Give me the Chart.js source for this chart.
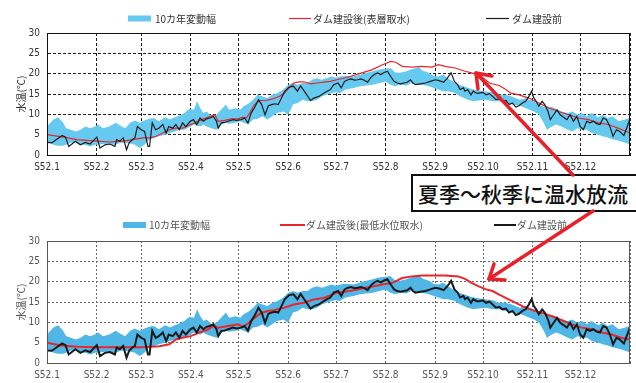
<!DOCTYPE html>
<html>
<head>
<meta charset="utf-8">
<script src="https://cdn.jsdelivr.net/npm/chart.js@4.4.1/dist/chart.umd.min.js"></script>
<style>
body { margin: 0; background: #fff; }
#wrap { position: relative; width: 636px; height: 383px; overflow: hidden; }
.pane { position: absolute; left: 0; width: 636px; }
#note {
    position: absolute; left: 411px; top: 174px; width: 218px; height: 34px;
    border: 2px solid #111; background: #fff; color: #111;
    font: 500 21px "Noto Sans CJK JP", sans-serif; line-height: 34px;
    padding-left: 5px; white-space: nowrap;
}
#arrows { position: absolute; left: 0; top: 0; pointer-events: none; }
</style>
</head>
<body>
<div id="wrap">
    <div class="pane" style="top:0;height:190px"><canvas id="chartTop"></canvas></div>
    <div class="pane" style="top:190px;height:193px"><canvas id="chartBottom"></canvas></div>
    <div id="note">夏季～秋季に温水放流</div>
    <svg id="arrows" width="636" height="383">
        <g stroke="#e8202a" stroke-width="3.5" fill="none" stroke-linecap="round" stroke-linejoin="round">
            <line x1="573" y1="175" x2="476" y2="73"/>
            <polyline points="492,76 476,73 478,89"/>
            <line x1="593" y1="211" x2="489" y2="279"/>
            <polyline points="505,280 489,279 494,264"/>
        </g>
    </svg>
</div>
<script>
// x = day of year (S52 = 1977), y = water temperature
const monthStart = [0, 31, 59, 90, 120, 151, 181, 212, 243, 273, 304, 334, 365];
const monthLabel = ['S52.1', 'S52.2', 'S52.3', 'S52.4', 'S52.5', 'S52.6',
    'S52.7', 'S52.8', 'S52.9', 'S52.10', 'S52.11', 'S52.12'];

// ダム建設前 [day, temp]
const preDam = [
    [0, 3.1], [3, 3.0], [9.5, 4.8], [11.6, 4.4], [13.6, 2.1], [17.8, 3.4], [20.9, 2.5], [24, 3.1],
    [27, 2.7], [31.2, 4.4], [33.2, 1.7], [36.3, 2.5], [39.4, 2.7], [42.5, 2.1], [43.6, 3.8], [45.6, 3.4],
    [47.7, 4.2], [49.8, 1.3], [51.4, 3.0], [53.5, 3.8], [55, 4.2], [56.6, 7.0], [59, 6.2], [61.1, 5.8],
    [63.2, 2.1], [64.2, 2.1], [65.9, 7.9], [68, 6.2], [70, 6.6], [72.5, 7.5], [74.6, 5.4], [76.2, 7.0],
    [78.7, 6.6], [80.7, 7.5], [82.8, 6.2], [84.9, 7.9], [86.9, 7.0], [89.7, 8.3], [91.7, 8.7], [93.8, 7.5],
    [95.8, 9.1], [97.9, 8.3], [99.9, 8.9], [102, 9.1], [104.1, 9.5], [106.1, 8.3], [107.2, 6.6], [109.2, 7.9],
    [111.3, 8.0], [113.4, 8.3], [116.5, 8.7], [118.5, 8.5], [121.6, 8.7], [123.7, 9.1], [125.8, 7.9], [127.8, 10.3],
    [129.9, 11.6], [132.4, 13.6], [134.4, 12.4], [136.5, 9.9], [138.6, 12.1], [140.6, 12.4], [142.7, 12.6], [144.8, 12.4],
    [146.8, 14.0], [148.9, 15.7], [151.6, 16.7], [154.3, 16.9], [156.8, 15.7], [158.8, 17.0], [161.9, 15.2], [165, 13.4],
    [167.1, 14.0], [170.2, 14.4], [173.3, 15.2], [175.3, 15.7], [177.4, 16.1], [179.5, 17.3], [182.2, 17.7], [184.2, 16.5],
    [186.3, 18.1], [188.4, 18.5], [190.4, 18.7], [192.5, 18.4], [194.5, 18.5], [196.6, 18.7], [198.7, 18.4], [200.7, 17.9],
    [202.8, 19.1], [204.9, 19.8], [206.9, 20.2], [209, 19.8], [211.1, 20.3], [213.1, 20.6], [215.2, 19.3], [217.3, 18.1],
    [219.3, 17.7], [221.4, 17.5], [223.5, 17.7], [225.5, 17.9], [227.6, 18.5], [229.1, 17.7], [230.7, 17.3], [233.8, 17.5],
    [236.9, 17.7], [240, 18.1], [243.1, 18.5], [245.5, 18.3], [248.3, 17.9], [250.3, 18.7], [253, 20.2], [255.1, 18.1],
    [257.1, 17.3], [258.6, 16.1], [260.7, 16.5], [261.7, 15.7], [263.3, 16.1], [265.4, 14.8], [266.9, 15.7], [268.9, 15.2],
    [270.8, 15.2], [272.8, 15.4], [274.9, 14.8], [277, 15.1], [279, 14.4], [281.1, 13.6], [283.1, 13.8], [285.2, 13.2],
    [287.3, 13.4], [289.3, 12.4], [291.4, 12.8], [293.5, 11.8], [295.5, 12.1], [297.6, 12.8], [299.7, 13.2], [301.7, 14.4],
    [303.4, 15.7], [304.8, 14.0], [306.3, 13.2], [307.9, 12.0], [310, 13.2], [311.6, 12.4], [313.7, 10.7], [315.1, 8.7],
    [317.2, 9.9], [319.3, 11.1], [321.3, 9.9], [323.4, 9.3], [325.5, 8.7], [327.5, 9.9], [329.6, 8.3], [331.7, 9.5],
    [333.8, 7.0], [335.8, 6.2], [337.9, 8.3], [339.9, 7.9], [342, 8.3], [344.1, 7.7], [346.2, 7.5], [348.2, 9.1],
    [350.3, 8.7], [352.4, 7.0], [354.4, 4.6], [356.5, 6.2], [358.5, 5.8], [361.2, 4.8], [363.3, 7.0], [365, 8.9]
];

// 10カ年変動幅 [day, low, high]
const range10y = [
    [0, 3.4, 7.0], [4, 2.5, 8.7], [7, 2.3, 9.3], [10, 2.3, 8.0], [12, 2.5, 6.6], [15, 3.0, 6.2], [18, 3.1, 5.8],
    [21, 2.5, 6.2], [24, 2.5, 7.0], [27, 2.1, 6.6], [30, 2.5, 7.0], [32, 2.5, 7.5], [35, 2.7, 6.6], [39, 2.5, 7.0],
    [43, 2.5, 7.9], [46, 3.0, 7.2], [49, 3.0, 6.6], [52, 2.8, 7.9], [55, 2.5, 8.5], [58, 1.7, 7.9], [61, 2.5, 8.5],
    [64, 3.8, 8.9], [67, 4.2, 9.1], [70, 4.6, 8.3], [74, 5.0, 9.3], [77, 5.4, 8.7], [80, 5.8, 9.3], [83, 6.2, 9.7],
    [86, 6.2, 10.3], [89, 6.8, 11.3], [92, 7.5, 11.1], [94, 7.2, 13.2], [96, 7.0, 11.5], [98, 7.5, 10.3], [100, 7.0, 10.7],
    [103, 6.6, 9.5], [106, 6.2, 9.9], [109, 7.5, 11.1], [112, 7.9, 12.4], [114, 7.7, 11.1], [118, 7.9, 11.5], [121, 8.3, 11.1],
    [123, 7.9, 12.0], [126, 7.5, 12.6], [129, 8.7, 13.6], [132, 8.9, 14.8], [135, 9.5, 14.4], [138, 8.7, 14.0], [141, 9.5, 14.8],
    [144, 10.3, 15.2], [148, 10.7, 16.1], [151, 9.9, 17.3], [154, 12.4, 17.7], [157, 12.8, 17.3], [160, 13.6, 17.7], [163, 13.2, 17.7],
    [166, 13.2, 18.5], [169, 13.6, 18.9], [172, 14.4, 18.5], [175, 14.8, 18.9], [178, 15.2, 19.3], [181, 15.5, 19.0], [183, 15.2, 19.3],
    [187, 16.1, 19.5], [192, 16.5, 19.3], [196, 16.9, 19.8], [200, 17.1, 20.2], [204, 17.3, 20.6], [208, 17.7, 21.0], [212, 18.1, 21.2],
    [215, 17.3, 21.4], [218, 16.9, 20.3], [221, 17.3, 20.2], [225, 17.1, 20.6], [228, 17.7, 21.0], [231, 17.3, 21.4], [233, 17.3, 21.6],
    [235, 17.3, 20.8], [239, 16.9, 20.2], [242, 16.5, 19.5], [245, 16.1, 19.3], [248, 15.7, 19.8], [251, 15.7, 18.9], [255, 15.3, 17.9],
    [258, 14.6, 17.3], [261, 14.0, 16.9], [264, 13.5, 16.5], [267, 13.2, 16.1], [270, 13.4, 15.9], [275, 13.6, 15.6], [279, 13.2, 15.4],
    [283, 13.2, 14.8], [287, 12.8, 14.8], [291, 12.4, 14.4], [296, 12.1, 13.6], [300, 11.5, 14.0], [302, 11.1, 13.6], [305, 10.7, 13.2],
    [308, 9.9, 12.4], [311, 7.9, 11.8], [313, 6.2, 11.6], [316, 7.0, 11.8], [319, 7.5, 11.3], [322, 7.0, 10.7], [326, 6.2, 10.3],
    [329, 5.8, 10.7], [332, 6.6, 9.9], [335, 6.2, 10.3], [338, 6.2, 9.5], [341, 5.4, 10.3], [345, 5.0, 9.3], [348, 4.6, 9.9],
    [351, 4.3, 9.1], [354, 3.9, 9.5], [358, 3.5, 8.3], [362, 3.0, 8.7], [365, 2.6, 9.1]
];

// ダム建設後(表層取水) [day, temp]
const postDamSurface = [
    [0, 5.0], [10.5, 4.4], [18.8, 3.8], [31.2, 3.4], [39.4, 3.2], [47.7, 3.4], [53.9, 3.8], [60.1, 4.2],
    [64.2, 4.2], [68.3, 4.6], [72.5, 5.4], [76.6, 6.2], [80.7, 6.6], [84.9, 6.6], [90, 7.5], [92.7, 7.9],
    [96.9, 8.7], [101, 9.3], [105.1, 9.9], [107.2, 8.3], [111.3, 8.5], [115.5, 8.9], [119.6, 8.9], [122.7, 9.3],
    [124.8, 9.1], [126.9, 10.3], [129.9, 12.4], [133, 13.4], [137.1, 13.4], [141.3, 13.8], [145.4, 14.4], [148.5, 15.2],
    [151.6, 16.5], [154.7, 17.7], [157.8, 18.0], [160.9, 18.0], [165, 17.5], [169.1, 17.7], [173.3, 17.9], [177.4, 18.1],
    [181.5, 18.5], [187.3, 19.0], [195.6, 20.0], [203.8, 21.0], [210, 22.2], [215.2, 23.0], [218.3, 22.8], [222.4, 21.8],
    [228.6, 21.6], [234.8, 21.8], [241, 21.6], [245.1, 22.2], [249.3, 21.8], [255.5, 21.4], [261.7, 20.6], [265.8, 20.2],
    [272, 19.3], [277, 17.7], [283.1, 17.1], [287.3, 16.1], [290.4, 15.2], [295.5, 14.8], [301.7, 14.0], [307.9, 12.8],
    [314.1, 11.6], [320.3, 10.7], [326.5, 9.9], [332.8, 9.1], [339, 8.7], [345.1, 7.9], [351.3, 7.5], [357.5, 6.6], [365, 5.4]
];

// ダム建設後(最低水位取水) [day, temp]
const postDamLowest = [
    [0, 5.0], [8.9, 4.3], [19.2, 4.0], [29.5, 3.9], [39.4, 3.9], [49.8, 3.9], [60.1, 3.9], [70.4, 4.1],
    [76.6, 4.6], [80.7, 5.8], [84.9, 6.2], [90, 6.6], [94.8, 7.4], [101, 8.3], [104.1, 9.1], [107.2, 8.7],
    [113.4, 9.1], [119.6, 9.5], [122.6, 8.9], [125.8, 9.7], [129.9, 11.1], [134, 12.3], [138.1, 12.8], [142.3, 13.0],
    [148.4, 13.6], [154.6, 14.4], [160.8, 14.8], [167, 15.6], [173.2, 16.0], [181.5, 17.3], [189.4, 17.7], [199.7, 18.5],
    [210, 19.3], [216.2, 19.7], [222.4, 20.9], [228.6, 21.3], [234.8, 21.5], [241, 21.5], [249.3, 21.5], [257.5, 21.3],
    [261.7, 20.7], [265.8, 19.7], [269.9, 18.9], [274.9, 18.1], [279, 17.7], [283.1, 16.8], [289.3, 15.6], [293.5, 14.8],
    [297.6, 14.0], [303.8, 13.0], [310, 12.3], [316.2, 11.5], [322.4, 10.5], [328.6, 9.5], [334.8, 8.7], [341, 8.3],
    [347.2, 7.5], [353.4, 7.0], [359.6, 6.2], [365, 5.8]
];

const jpFont = '"Noto Sans CJK JP", sans-serif';
const numFont = '"Liberation Sans Narrow", "DejaVu Sans Condensed", "Liberation Sans", sans-serif';

function toXY(rows, col) {
    return rows.map(r => ({x: r[0], y: r[col]}));
}

// draws the legend row at fixed spots, using the dataset label/colour
function legendRow(st) {
    return {
        id: 'legendRow',
        afterDraw(chart) {
            const ctx = chart.ctx;
            const y = st.legendY;
            ctx.save();
            ctx.font = '10px ' + jpFont;
            ctx.textBaseline = 'middle';
            st.legendItems.forEach(it => {
                const ds = chart.data.datasets[it.ds];
                if (it.box) {
                    ctx.fillStyle = ds.backgroundColor;
                    ctx.fillRect(it.x, y - 3, it.w, 6);
                } else {
                    ctx.strokeStyle = ds.borderColor;
                    ctx.lineWidth = ds.borderWidth;
                    ctx.beginPath();
                    ctx.moveTo(it.x, y);
                    ctx.lineTo(it.x + it.w, y);
                    ctx.stroke();
                }
                ctx.fillStyle = st.textColor;
                ctx.fillText(ds.label, it.tx, y + 0.5);
            });
            ctx.restore();
        }
    };
}

// solid frame round the plot area
function frame(st) {
    return {
        id: 'frame',
        afterDatasetsDraw(chart) {
            const a = chart.chartArea;
            const ctx = chart.ctx;
            ctx.save();
            ctx.strokeStyle = st.frameColor;
            ctx.lineWidth = 1;
            ctx.strokeRect(Math.round(a.left) + 0.5, Math.round(a.top) + 0.5,
                Math.round(a.right - a.left) - 1, Math.round(a.bottom - a.top));
            ctx.restore();
        }
    };
}

function makeChart(id, redRows, redLabel, st) {
    new Chart(id, {
        type: 'line',
        data: {
            datasets: [{
                label: 'ダム建設前',
                data: toXY(preDam, 1),
                borderColor: st.black,
                borderWidth: st.lineW,
                pointRadius: 0,
                fill: false
            }, {
                label: redLabel,
                data: toXY(redRows, 1),
                borderColor: '#e8262b',
                borderWidth: st.lineW,
                pointRadius: 0,
                fill: false
            }, {
                label: '10カ年変動幅',
                data: toXY(range10y, 2),
                borderWidth: 0,
                borderColor: 'rgba(0,0,0,0)',
                backgroundColor: st.band,
                pointRadius: 0,
                fill: '+1'
            }, {
                label: 'low',
                data: toXY(range10y, 1),
                borderWidth: 0,
                borderColor: 'rgba(0,0,0,0)',
                pointRadius: 0,
                fill: false
            }]
        },
        options: {
            responsive: true,
            maintainAspectRatio: false,
            animation: false,
            layout: {padding: {top: st.padTop, right: 1, left: 0, bottom: 0}},
            plugins: {legend: {display: false}, tooltip: {enabled: false}},
            scales: {
                x: {
                    type: 'linear', min: 0, max: 365,
                    afterBuildTicks: s => { s.ticks = monthStart.map(v => ({value: v})); },
                    afterFit: s => { s.height = st.xAxisH; },
                    ticks: {
                        autoSkip: false, maxRotation: 0, padding: 6,
                        color: st.textColor, font: {family: numFont, size: 10},
                        callback: v => monthLabel[monthStart.indexOf(v)] || ''
                    },
                    grid: {color: st.gridColor, drawTicks: false},
                    border: {display: true, color: st.frameColor, dash: st.gridDash}
                },
                y: {
                    min: 0, max: 30,
                    afterFit: s => { s.width = 47; },
                    ticks: {stepSize: 5, padding: 7, color: st.textColor, font: {family: numFont, size: 10}},
                    title: {display: true, text: '水温(℃)', color: st.textColor,
                        font: {family: jpFont, size: 10}, padding: {top: 15, bottom: 0}},
                    grid: {color: st.gridColor, drawTicks: false},
                    border: {display: true, color: st.frameColor, dash: st.gridDash}
                }
            }
        },
        plugins: [frame(st), legendRow(st)]
    });
}

makeChart('chartTop', postDamSurface, 'ダム建設後(表層取水)', {
    padTop: 33, xAxisH: 35, lineW: 1.2, black: '#1c1c1c', band: '#66c9f0',
    gridColor: '#222', gridDash: [3, 2], frameColor: '#111', textColor: '#333',
    legendY: 18.5,
    legendItems: [
        {ds: 2, box: true, x: 128, w: 23, tx: 155},
        {ds: 1, x: 289, w: 22, tx: 313},
        {ds: 0, x: 486, w: 23, tx: 512}
    ]
});

makeChart('chartBottom', postDamLowest, 'ダム建設後(最低水位取水)', {
    padTop: 51, xAxisH: 20, lineW: 2, black: '#1a1a1a', band: '#50b6e6',
    gridColor: '#6a6a6a', gridDash: [2, 2], frameColor: '#555', textColor: '#555',
    legendY: 35,
    legendItems: [
        {ds: 2, box: true, x: 123, w: 23, tx: 149},
        {ds: 1, x: 280, w: 25, tx: 306},
        {ds: 0, x: 494, w: 22, tx: 517}
    ]
});
</script>
</body>
</html>
